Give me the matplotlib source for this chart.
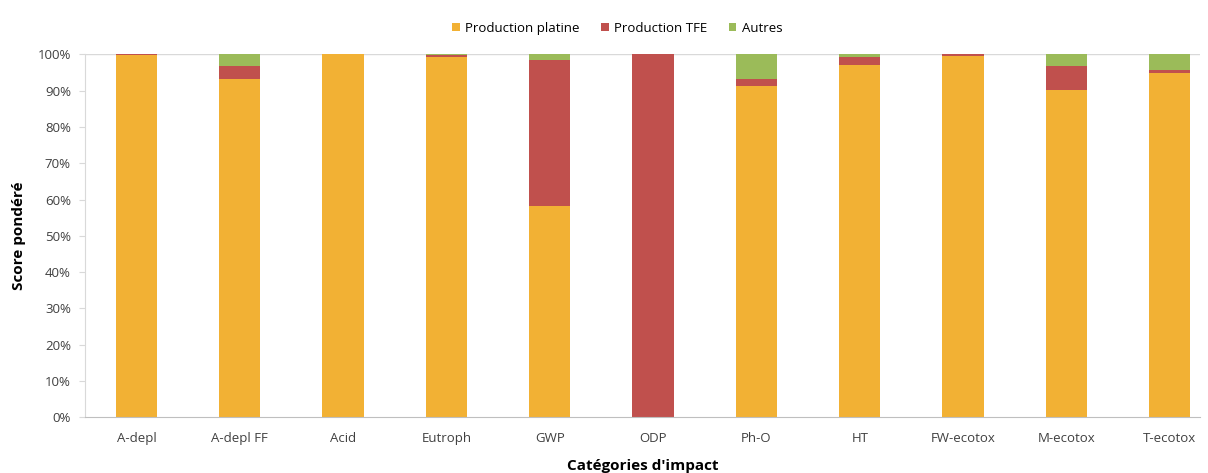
import numpy as np
import matplotlib.pyplot as plt
from matplotlib.ticker import PercentFormatter

categories = ['A-depl', 'A-depl FF', 'Acid', 'Eutroph', 'GWP', 'ODP',
              'Ph-O', 'HT', 'FW-ecotox', 'M-ecotox', 'T-ecotox']
platine = [99.7, 93.3, 100.0, 99.3, 58.2, 0.0, 91.4, 97.2, 99.6, 90.1, 95.0]
tfe = [0.3, 3.4, 0.0, 0.5, 40.3, 100.0, 1.9, 2.2, 0.4, 6.6, 0.6]
autres = [0.0, 3.3, 0.0, 0.2, 1.5, 0.0, 6.7, 0.6, 0.0, 3.3, 4.4]

plt.rcParams['font.family'] = ['Open Sans', 'DejaVu Sans']

fig = plt.figure(figsize=(12.08, 4.73), dpi=100)
ax = fig.add_axes([0.0702, 0.118, 0.923, 0.767])

x = np.arange(len(categories))
w = 0.4
p1 = np.array(platine)
p2 = np.array(tfe)
p3 = np.array(autres)
ax.bar(x, p1, w, color='#F2B134', label='Production platine')
ax.bar(x, p2, w, bottom=p1, color='#C0504D', label='Production TFE')
ax.bar(x, p3, w, bottom=p1 + p2, color='#9BBB59', label='Autres')

ax.set_xlim(-0.5, 10.29)
ax.set_ylim(0, 100)
ax.set_yticks(np.arange(0, 101, 10))
ax.yaxis.set_major_formatter(PercentFormatter(decimals=0))
ax.set_xticks(x)
ax.set_xticklabels(categories)
ax.tick_params(axis='x', length=0, pad=11, labelsize=9.5, labelcolor='#404040')
ax.tick_params(axis='y', length=4, width=0.8, color='#D9D9D9', pad=6,
               labelsize=9.5, labelcolor='#404040')

for s in ['top', 'right']:
    ax.spines[s].set_visible(False)
ax.spines['left'].set_color('#D9D9D9')
ax.spines['bottom'].set_color('#BFBFBF')
ax.axhline(100, color='#D9D9D9', lw=1, zorder=0)

ax.set_xlabel("Catégories d'impact", fontsize=11, fontweight='bold', labelpad=10)
ax.set_ylabel('Score pondéré', fontsize=11, fontweight='bold', labelpad=8)

fig.legend(loc='center', bbox_to_anchor=(0.511, 0.94), ncol=3, frameon=False,
           fontsize=9.5, handlelength=0.6, handleheight=0.6, handletextpad=0.4,
           columnspacing=1.6)

fig.savefig('out.png', dpi=100)
